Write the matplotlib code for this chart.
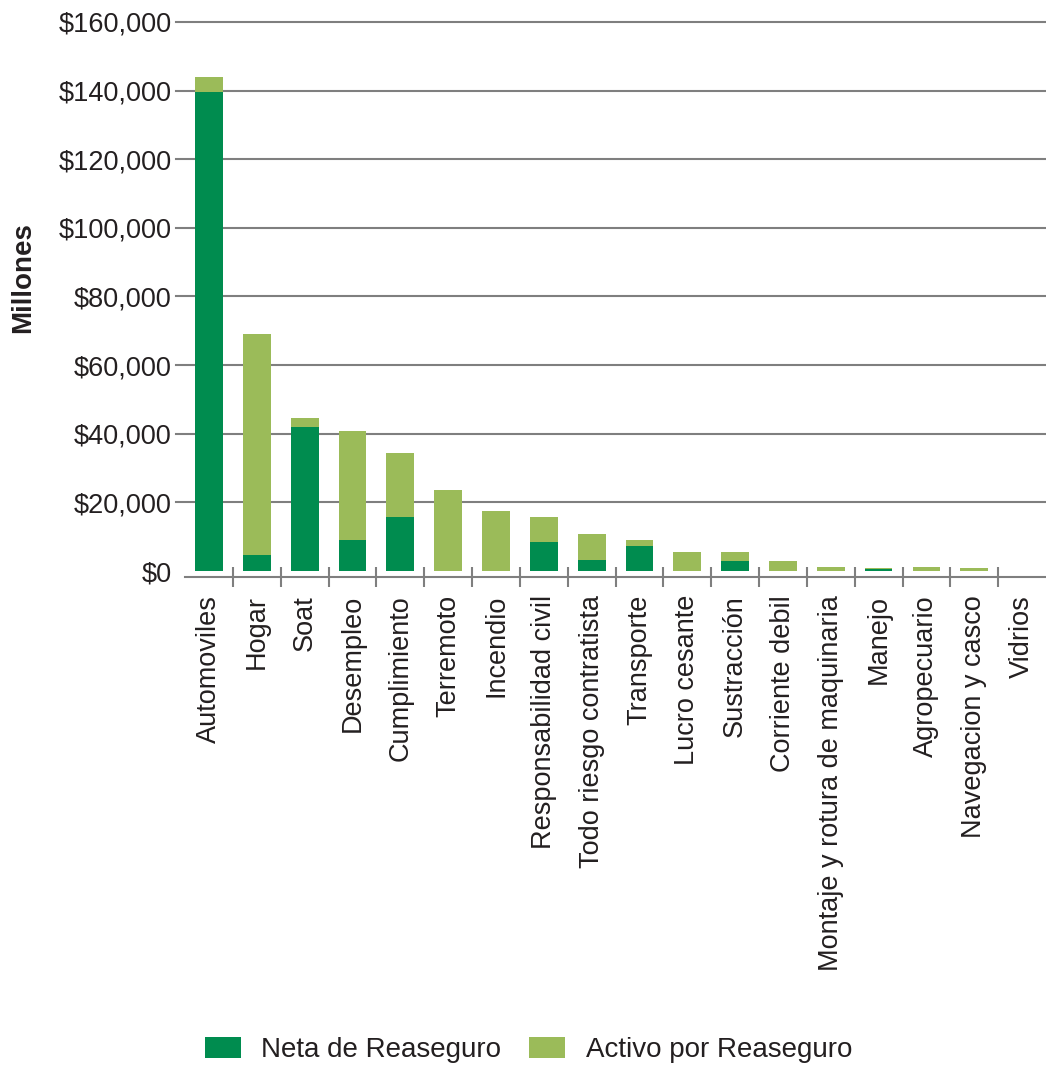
import numpy as np
import matplotlib.pyplot as plt
from matplotlib.ticker import FuncFormatter, FixedLocator

plt.rcParams['font.family'] = ['Liberation Sans', 'DejaVu Sans']

# Ramos de seguros (millones de pesos)
ramos = ['Automoviles', 'Hogar', 'Soat', 'Desempleo', 'Cumplimiento',
         'Terremoto', 'Incendio', 'Responsabilidad civil',
         'Todo riesgo contratista', 'Transporte', 'Lucro cesante',
         'Sustracción', 'Corriente debil', 'Montaje y rotura de maquinaria',
         'Manejo', 'Agropecuario', 'Navegacion y casco', 'Vidrios']
neta = [139500, 4700, 42000, 9100, 15700, 0, 0, 8500, 3300, 7300, 0,
        3000, 0, 0, 700, 0, 0, 0]
activo = [4600, 64300, 2600, 31800, 18700, 23500, 17400, 7200, 7500, 1800,
          5600, 2600, 3000, 1300, 300, 1300, 1000, 0]
yticks = [0, 20000, 40000, 60000, 80000, 100000, 120000, 140000, 160000]

c_neta = '#008C4F'
c_activo = '#9BBB59'
grid_c = '#7f7f7f'
txt_c = '#231F20'

fig = plt.figure(figsize=(10.46, 10.66), dpi=100)
ax = fig.add_axes([0.177, 0.4587, 0.823, 0.5207])

x = np.arange(len(ramos))
ax.bar(x, neta, width=0.58, color=c_neta, label='Neta de Reaseguro', zorder=3)
ax.bar(x, activo, width=0.58, bottom=neta, color=c_activo,
       label='Activo por Reaseguro', zorder=3)

# horizontal gridlines, each starting with a short stub left of the axes
for v in yticks[1:]:
    ax.plot([-0.0105, 1], [v, v], transform=ax.get_yaxis_transform(),
            color=grid_c, lw=1.5, zorder=1, clip_on=False)

ax.set_xlim(-0.5, len(ramos) - 0.5)
ax.set_ylim(-1750, 160000)

for s in ['top', 'right', 'left']:
    ax.spines[s].set_visible(False)
ax.spines['bottom'].set_color(grid_c)
ax.spines['bottom'].set_linewidth(1.5)

ax.set_yticks(yticks)
ax.yaxis.set_major_formatter(FuncFormatter(lambda v, p: '${:,.0f}'.format(v)))
ax.tick_params(axis='y', length=0, pad=9.5,
               labelsize=19.5, labelcolor=txt_c)

ax.set_xticks(x)
ax.set_xticklabels(ramos, rotation=90, va='top', ha='center')
ax.xaxis.set_minor_locator(FixedLocator(np.arange(1, len(ramos)) - 0.5))
ax.tick_params(axis='x', which='major', length=0, pad=13,
               labelsize=19.5, labelcolor=txt_c)
ax.tick_params(axis='x', which='minor', direction='inout', length=14,
               width=1.5, color=grid_c)

ax.set_ylabel('Millones', fontsize=20, fontweight='bold', color=txt_c)
ax.yaxis.set_label_coords(-0.1735, 0.539)

fig.legend(loc='center', bbox_to_anchor=(0.5053, 0.0147), ncol=2,
           frameon=False, fontsize=20, handlelength=1.3, handleheight=0.8,
           handletextpad=0.75, columnspacing=1.0, labelcolor=txt_c)

fig.savefig('out.png', dpi=100)
